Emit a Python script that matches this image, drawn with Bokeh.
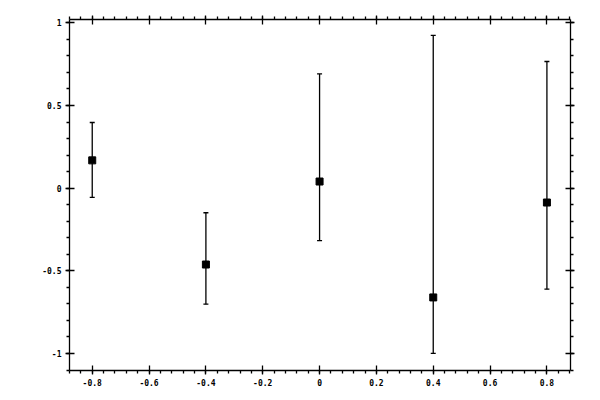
from bokeh.plotting import figure
from bokeh.models import ColumnDataSource, Whisker, TeeHead, LinearAxis, FixedTicker, Range1d, CustomJSTickFormatter
from bokeh.embed import file_html
from bokeh.resources import INLINE
import numpy as np

# data
x_vals = [-0.8, -0.4, 0.0, 0.4, 0.8]
y_vals = [0.168, -0.462, 0.040, -0.661, -0.087]
y_upper = [0.397, -0.149, 0.691, 0.924, 0.766]
y_lower = [-0.056, -0.702, -0.317, -1.000, -0.611]

x_ticks = [-0.8, -0.6, -0.4, -0.2, 0.0, 0.2, 0.4, 0.6, 0.8]
x_tick_labels = ["-0.8", "-0.6", "-0.4", "-0.2", "0", "0.2", "0.4", "0.6", "0.8"]
y_ticks = [-1.0, -0.5, 0.0, 0.5, 1.0]
y_tick_labels = ["-1", "-0.5", "0", "0.5", "1"]

x_range = (-0.88, 0.883)
y_range = (-1.103, 1.02)

src = ColumnDataSource(dict(x=x_vals, y=y_vals, upper=y_upper, lower=y_lower))

p = figure(width=592, height=392, output_backend="svg", toolbar_location=None,
           x_range=Range1d(*x_range), y_range=Range1d(*y_range),
           x_axis_location=None, y_axis_location=None,
           min_border_left=69, min_border_right=22, min_border_top=19, min_border_bottom=22)
p.frame_width = 501
p.frame_height = 351
p.grid.visible = False
p.outline_line_color = None
p.background_fill_color = "white"
p.border_fill_color = "white"

x_minor = [round(v, 4) for v in np.arange(-0.88, 0.8801, 0.04)]
y_minor = [round(v, 4) for v in np.arange(-1.1, 1.0201, 0.1)]

def make_axis(ticks, minor, labels, show_labels):
    ax = LinearAxis(ticker=FixedTicker(ticks=ticks, minor_ticks=minor))
    ax.axis_line_color = "black"
    ax.axis_line_width = 1.3
    ax.major_tick_line_color = "black"
    ax.major_tick_line_width = 1.3
    ax.minor_tick_line_color = "black"
    ax.minor_tick_line_width = 1.3
    ax.major_tick_in = 5
    ax.major_tick_out = 4
    ax.minor_tick_in = 0
    ax.minor_tick_out = 3
    ax.major_label_text_font = "DejaVu Sans Mono"
    ax.major_label_text_font_size = "8px"
    ax.major_label_text_font_style = "bold"
    ax.major_label_text_color = "black"
    if show_labels:
        ax.major_label_overrides = {t: l for t, l in zip(ticks, labels)}
        ax.major_label_standoff = 4
    else:
        ax.formatter = CustomJSTickFormatter(code="return ''")
        ax.major_label_standoff = 0
    return ax

p.add_layout(make_axis(x_ticks, x_minor, x_tick_labels, True), "below")
p.add_layout(make_axis(x_ticks, x_minor, x_tick_labels, False), "above")
p.add_layout(make_axis(y_ticks, y_minor, y_tick_labels, True), "left")
p.add_layout(make_axis(y_ticks, y_minor, y_tick_labels, False), "right")

w = Whisker(base="x", upper="upper", lower="lower", source=src,
            line_color="black", line_width=1.3,
            upper_head=TeeHead(size=5, line_color="black", line_width=1.3),
            lower_head=TeeHead(size=5, line_color="black", line_width=1.3))
p.add_layout(w)

p.scatter("x", "y", source=src, marker="square", size=7, fill_color="black", line_color="black")

open("out.html", "w").write(file_html(p, INLINE))
